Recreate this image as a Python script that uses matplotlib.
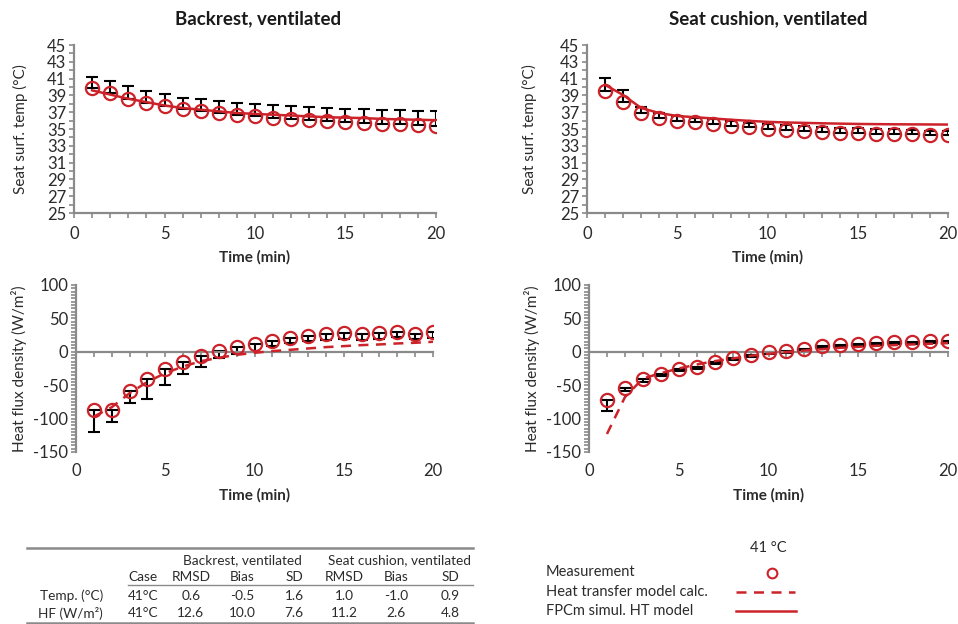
import matplotlib.pyplot as plt
import numpy as np
from matplotlib.lines import Line2D
from matplotlib.ticker import MultipleLocator, FixedLocator

plt.rcParams['font.family'] = ['Lato', 'DejaVu Sans']
plt.rcParams['axes.unicode_minus'] = False

# time in minutes
time = np.arange(1, 21)

# backrest, ventilated - surface temperature (deg C)
back_temp_meas = [39.85, 39.26, 38.62, 38.15, 37.71, 37.40, 37.16, 36.92, 36.68, 36.52,
                  36.33, 36.20, 36.09, 35.97, 35.85, 35.73, 35.65, 35.57, 35.50, 35.38]
back_temp_sd = [1.4, 1.45, 1.45, 1.35, 1.4, 1.35, 1.4, 1.45, 1.45, 1.45,
                1.55, 1.5, 1.5, 1.55, 1.55, 1.6, 1.6, 1.65, 1.7, 1.8]
back_temp_sim = [39.6, 39.1, 38.6, 38.2, 37.8, 37.5, 37.3, 37.1, 36.9, 36.8,
                 36.7, 36.6, 36.5, 36.4, 36.35, 36.3, 36.2, 36.15, 36.1, 36.05]

# seat cushion, ventilated - surface temperature (deg C)
seat_temp_meas = [39.57, 38.19, 36.88, 36.29, 36.0, 35.85, 35.6, 35.4, 35.2, 35.0,
                  34.9, 34.78, 34.66, 34.55, 34.47, 34.43, 34.4, 34.35, 34.3, 34.27]
seat_temp_sd = [1.5, 1.45, 0.7, 0.65, 0.5, 0.5, 0.55, 0.55, 0.5, 0.55,
                0.55, 0.6, 0.6, 0.6, 0.6, 0.55, 0.55, 0.55, 0.5, 0.5]
seat_temp_sim = [40.25, 39.05, 37.5, 36.9, 36.55, 36.4, 36.25, 36.1, 35.97, 35.85,
                 35.78, 35.73, 35.68, 35.64, 35.6, 35.58, 35.56, 35.55, 35.54, 35.53]

# backrest, ventilated - heat flux density (W/m2)
back_hf_meas = [-86.5, -87.5, -58.5, -40.0, -26.0, -15.0, -6.5, 1.5, 7.5, 11.5,
                16.0, 20.0, 23.5, 26.0, 27.5, 26.5, 28.5, 29.0, 26.5, 29.0]
back_hf_sd = [34.0, 17.5, 18.0, 30.0, 23.0, 17.5, 17.0, 11.5, 11.5, 11.5,
              7.5, 7.5, 7.5, 8.5, 9.0, 9.0, 9.5, 7.5, 8.0, 9.0]
back_hf_calc = [-97, -83, -62, -45, -32, -22, -14, -9, -4.5, -1.5,
                1, 3, 5, 7, 8.5, 10, 11, 12.5, 13.5, 15]

# seat cushion, ventilated - heat flux density (W/m2)
seat_hf_meas = [-71.5, -54.0, -41.0, -32.5, -25.5, -22.5, -15.0, -10.0, -5.5, 0.0,
                1.5, 4.5, 8.5, 10.5, 12.0, 13.5, 15.0, 14.5, 15.5, 16.5]
seat_hf_sd = [17.0, 5.0, 3.5, 3.0, 3.0, 3.0, 3.0, 3.0, 3.0, 3.0,
              3.0, 3.0, 3.0, 3.0, 3.0, 3.0, 3.0, 3.0, 3.0, 3.0]
seat_hf_calc = [-123, -68, -40, -32, -25, -19, -14, -10, -6, -3,
                -0.5, 2, 4, 6, 7.5, 9, 10, 11, 12, 13]

temp_ticks = list(range(25, 46, 2))
hf_ticks = [-150, -100, -50, 0, 50, 100]

# statistics table
table_groups = ["Backrest, ventilated", "Seat cushion, ventilated"]
table_cols = ["Case", "RMSD", "Bias", "SD", "RMSD", "Bias", "SD"]
table_rows = ["Temp. (°C)", "HF (W/m²)"]
table_vals = [["41°C", "0.6", "-0.5", "1.6", "1.0", "-1.0", "0.9"],
              ["41°C", "12.6", "10.0", "7.6", "11.2", "2.6", "4.8"]]

RED = '#cc2229'
GRAY = '#8a8a8a'
TXT = '#2b2b2b'
W, H = 958, 624
TICK_FS = 12


def fx(px):
    return px / W


def fy(py):
    return 1 - py / H


def style(ax, ylim, yticks, ymin, hf=False):
    ax.set_xlim(0, 20)
    ax.set_ylim(*ylim)
    for s in ['top', 'right']:
        ax.spines[s].set_visible(False)
    for s in ['left', 'bottom']:
        ax.spines[s].set_color(GRAY)
        ax.spines[s].set_linewidth(1.6)
    ax.xaxis.set_major_locator(MultipleLocator(5))
    ax.xaxis.set_minor_locator(MultipleLocator(1))
    ax.yaxis.set_major_locator(FixedLocator(yticks))
    ax.yaxis.set_minor_locator(MultipleLocator(ymin))
    ax.tick_params(which='both', direction='out', length=3.5, width=1.2, color=GRAY,
                   labelsize=TICK_FS, labelcolor=TXT)
    ax.tick_params(axis='y', pad=2)
    ax.tick_params(axis='x', pad=6)
    if hf:
        # axis line sits at zero, tick labels stay at the bottom
        ax.spines['bottom'].set_position(('data', 0))
        ax.tick_params(axis='x', labelbottom=False)
        sec = ax.secondary_xaxis('bottom')
        sec.set_xticks([0, 5, 10, 15, 20])
        sec.tick_params(length=0, labelsize=TICK_FS, labelcolor=TXT, pad=8)
        sec.spines['bottom'].set_visible(False)


def draw(ax, meas, sd, model, model_style, upper):
    err = [np.zeros(len(sd)), sd] if upper else [sd, np.zeros(len(sd))]
    ax.errorbar(time, meas, yerr=err, fmt='none', ecolor='black', elinewidth=1.5,
                capsize=4.5, capthick=1.5, zorder=2)
    ax.plot(time, model, color=RED, lw=1.8, linestyle=model_style,
            dashes=(4, 3) if model_style == '--' else (None, None), zorder=3)
    ax.plot(time, meas, 'o', mfc='none', mec=RED, mew=1.6, ms=9.5, zorder=4)


fig = plt.figure(figsize=(9.58, 6.24), dpi=100)

ax_tl = fig.add_axes([fx(74), fy(213), fx(436 - 74), (213 - 45) / H])
ax_tr = fig.add_axes([fx(587), fy(213), fx(948 - 587), (213 - 45) / H])
ax_bl = fig.add_axes([fx(76), fy(452), fx(433 - 76), (452 - 285) / H])
ax_br = fig.add_axes([fx(589), fy(452), fx(948 - 589), (452 - 285) / H])

style(ax_tl, (25, 45), temp_ticks, 1)
style(ax_tr, (25, 45), temp_ticks, 1)
style(ax_bl, (-150, 100), hf_ticks, 5, hf=True)
style(ax_br, (-150, 100), hf_ticks, 5, hf=True)

draw(ax_tl, back_temp_meas, back_temp_sd, back_temp_sim, '-', True)
draw(ax_tr, seat_temp_meas, seat_temp_sd, seat_temp_sim, '-', True)
draw(ax_bl, back_hf_meas, back_hf_sd, back_hf_calc, '--', False)
draw(ax_br, seat_hf_meas, seat_hf_sd, seat_hf_calc, '--', False)

for ax, lx in [(ax_tl, -0.128), (ax_tr, -0.138)]:
    ax.set_ylabel("Seat surf. temp (°C)", fontsize=11, color=TXT)
    ax.yaxis.set_label_coords(lx, 0.5)
    ax.set_xlabel("Time (min)", fontsize=11, fontweight='bold', color=TXT)
    ax.xaxis.set_label_coords(0.5, -0.22)
for ax, lx in [(ax_bl, -0.137), (ax_br, -0.136)]:
    ax.set_ylabel("Heat flux density (W/m²)", fontsize=11, color=TXT)
    ax.yaxis.set_label_coords(lx, 0.5)
    ax.set_xlabel("Time (min)", fontsize=11, fontweight='bold', color=TXT)
    ax.xaxis.set_label_coords(0.5, -0.215)

fig.text(fx(258), fy(19), "Backrest, ventilated", ha='center', va='center',
         fontsize=13.5, fontweight='bold', color='#1a1a1a')
fig.text(fx(768), fy(19), "Seat cushion, ventilated", ha='center', va='center',
         fontsize=13.5, fontweight='bold', color='#1a1a1a')

# table
TAB_FS = 9.8
for y, x0, lw in [(548, 27, 1.8), (585, 128, 1.0), (623, 27, 1.8)]:
    fig.add_artist(Line2D([fx(x0), fx(473)], [fy(y), fy(y)], color=GRAY, lw=lw))
col_x = [143, 191, 242, 294, 344, 396, 450]
fig.text(fx(242), fy(560), table_groups[0], ha='center', va='center', fontsize=TAB_FS, color=TXT)
fig.text(fx(399), fy(560), table_groups[1], ha='center', va='center', fontsize=TAB_FS, color=TXT)
for x, c in zip(col_x, table_cols):
    fig.text(fx(x), fy(577), c, ha='center', va='center', fontsize=TAB_FS, color=TXT)
for y, r, vals in zip([596, 613], table_rows, table_vals):
    fig.text(fx(103), fy(y), r, ha='right', va='center', fontsize=TAB_FS, color=TXT)
    for x, v in zip(col_x, vals):
        fig.text(fx(x), fy(y), v, ha='center', va='center', fontsize=TAB_FS, color=TXT)

# legend
LEG_FS = 10.5
fig.text(fx(768), fy(548), "41 °C", ha='center', va='center', fontsize=LEG_FS, color=TXT)
fig.text(fx(546), fy(572), "Measurement", ha='left', va='center', fontsize=LEG_FS, color=TXT)
fig.text(fx(546), fy(592), "Heat transfer model calc.", ha='left', va='center', fontsize=LEG_FS, color=TXT)
fig.text(fx(546), fy(611), "FPCm simul. HT model", ha='left', va='center', fontsize=LEG_FS, color=TXT)
fig.add_artist(Line2D([fx(772)], [fy(573)], marker='o', mfc='none', mec=RED, mew=1.5, ms=7))
fig.add_artist(Line2D([fx(736), fx(795)], [fy(592), fy(592)], color=RED, lw=1.8, dashes=(4, 3)))
fig.add_artist(Line2D([fx(736), fx(796)], [fy(611), fy(611)], color=RED, lw=1.8))

fig.savefig("out.png", dpi=100)
